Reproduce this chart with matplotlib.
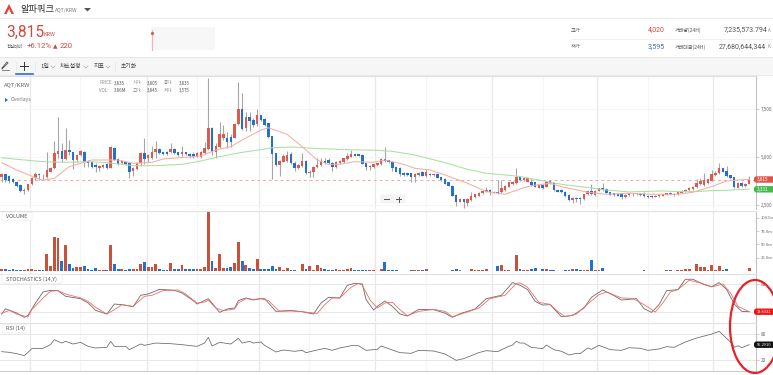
import matplotlib
matplotlib.use("Agg")
import matplotlib.pyplot as plt
from matplotlib.patches import Ellipse, Rectangle, FancyBboxPatch, Polygon

plt.rcParams['font.family'] = ['Noto Sans CJK KR', 'DejaVu Sans']

W, H = 773, 375

opens = [3980,4100,4010,3860,3720,3550,3240,3270,3580,3890,
4120,4080,3980,4240,4410,5170,5310,4900,5350,5240,
4840,5100,5280,4790,4720,4580,4450,4480,4620,4450,
5480,4880,4670,4760,4670,4270,4380,4670,5210,4930,
4970,5260,5420,5240,5260,5240,5400,5240,5140,5240,
5160,5170,5050,5020,5210,5420,6520,5240,5540,5970,
6000,6060,6000,6710,7490,6490,7060,6920,6700,7180,
6950,6750,6070,5190,4580,4760,4790,5140,4690,4450,
4550,4790,4150,4200,4460,4570,4790,4840,4690,4480,
4670,4720,4900,5020,5140,5140,5100,4670,4460,4500,
4580,4620,4900,4830,4760,4480,4450,4190,4190,4150,
3980,4070,4240,4000,4140,4070,4120,3940,3860,3690,
3510,3030,2680,2800,2600,2770,2910,2990,3110,3200,
3290,3200,3200,3170,3290,3460,3580,3650,3980,3790,
3720,3690,3690,3410,3550,3460,3750,3630,3300,3290,
3200,3030,2750,2890,2890,2800,3060,3220,3030,3250,
3370,3340,3170,3110,3100,3060,2940,3030,3060,3110,
3100,3100,2990,2980,2940,2960,2990,3040,3110,3100,
3060,3150,3220,3290,3320,3430,3580,3550,3630,3770,
4070,4170,4410,4270,4050,3940,3410,3670,3490,3600]

closes = [4100,3810,3750,3690,3510,3240,3300,3580,3930,4120,
4070,4050,4330,4450,5190,5310,4900,5350,5240,4840,
5090,5310,4760,4710,4500,4460,4550,4580,4410,5500,
4860,4650,4790,4650,4240,4410,4710,5210,4900,5100,
5260,5430,5210,5140,5170,5420,5210,5100,5240,5140,
5070,5020,5190,5280,5480,6520,5280,5590,6180,6180,
5760,5800,6710,7490,6450,7080,6870,6660,7180,6920,
6660,6060,5170,4580,4790,5050,5100,4670,4450,4580,
4790,4150,4240,4500,4580,4790,4690,4670,4480,4760,
4790,4930,5050,5140,5070,5070,4650,4460,4550,4620,
4670,4900,4790,4720,4410,4240,4140,4070,4070,3960,
4140,4190,4030,4240,4070,4140,3930,3790,3620,3510,
2990,2650,2820,2680,2820,2990,3060,3150,3240,3290,
3170,3150,3130,3370,3510,3690,3720,3960,3810,3890,
3890,3550,3460,3550,3410,3720,3630,3270,3200,3170,
2990,2750,2890,2820,2820,3060,3250,3080,3250,3370,
3290,3150,3050,3030,2990,2910,3030,3110,3110,3060,
3030,2960,2910,2910,2990,3030,3060,3110,3060,3030,
3170,3240,3300,3410,3460,3630,3770,3820,3840,4100,
4170,4410,4240,4030,3890,3440,3670,3490,3600,3815]

highs = [4150,4130,4070,3890,3750,3580,3370,3620,3980,4200,
4150,4120,5240,4500,5830,7060,5710,6520,5880,5280,
5140,5350,5310,4840,4790,4670,4580,4620,4670,5570,
5520,4930,4840,4790,4720,4500,4760,5240,6000,5170,
5590,5830,5480,5280,5290,5710,5450,5280,5590,5280,
5190,5240,5240,5310,5800,9120,6560,5710,6800,6660,
6310,6180,6780,8880,8340,7350,7320,7010,7490,7210,
7010,6780,6110,5220,4840,5140,5310,5240,4790,4620,
5190,4830,4310,4550,4930,4930,4930,4930,4720,4790,
4830,4970,5190,5360,5170,5170,5140,4710,4580,4650,
4710,4930,5540,4860,4790,4520,4480,4220,4220,4190,
4170,4220,4270,4360,4170,4170,4150,3980,3890,3720,
3550,3060,2860,2840,2860,3170,3100,3180,3270,3460,
3320,3240,3790,3790,3550,3720,3750,4410,4010,3930,
3930,3890,3720,3580,3580,3750,3790,3670,3340,3320,
3240,3060,2920,2920,2920,3100,3290,3580,3290,3410,
3630,3370,3200,3150,3130,3100,3060,3150,3150,3150,
3130,3200,3030,3010,3030,3060,3100,3150,3200,3130,
3200,3270,3340,3440,3490,3860,3890,4150,3860,4330,
4290,4670,4450,4550,4080,3980,3700,3700,3630,4020]

lows = [3720,3690,3630,3630,3460,3200,3100,3240,3550,3810,
3810,3810,3890,4200,4380,4970,4720,4840,5100,4380,
4720,5050,4500,4500,4450,4220,4270,4410,4360,4410,
4830,4580,4620,4580,3930,4030,4330,4550,4620,4720,
4900,4930,5170,5100,5100,5190,5170,5050,5070,5090,
4930,4970,5020,4930,5170,5360,5100,4970,5480,5880,
5480,5540,5970,6660,6400,6350,6350,6570,6630,6870,
6610,6000,3840,4550,4000,4720,4750,4620,4270,4360,
4500,4120,3980,3980,4430,4530,4640,4620,4290,4450,
4620,4690,4860,4980,5030,5030,4620,4330,4330,4450,
4550,4580,4760,4690,4270,4200,4030,4030,4030,3690,
3720,4000,4000,3960,4030,4030,3890,3750,3580,3480,
2960,2440,2650,2370,2470,2730,2870,2960,3080,3170,
3030,3110,3100,3110,3250,3430,3550,3620,3770,3750,
3690,3490,3430,3370,3340,3430,3600,3240,3170,3130,
2920,2720,2600,2680,2540,2770,3030,3050,2990,3220,
3250,3110,3010,2990,2960,2840,2890,2990,2990,3000,
2990,2920,2870,2870,2910,2930,2960,3010,3030,2990,
3030,3110,3180,3250,3290,3390,3550,3510,3600,3730,
4030,4140,4200,3960,3860,3410,3370,3460,3460,3595]

volumes = [2.8,3.5,1.6,3.5,0.6,0.6,0.6,4.1,4.1,2.2,
1.6,1.6,31.8,8.5,64,62,18,49.5,12.9,5.4,
7.2,7.2,8.5,3.5,1.6,4.7,0.6,1.6,1.6,48.2,
12.3,3.5,3.5,1.6,3.5,3.5,3.5,12.9,16.1,7.2,
7.9,12.9,2.8,1.6,1.6,15.4,2.8,2.8,10.4,2.8,
2.8,2.8,2.8,3.5,6.6,111,18.6,6,31.8,4.7,
5.4,7.2,15.4,54.5,18,11,4.7,3.5,22.4,
4.1,2.8,2.8,8.5,4.1,7.2,1.6,4.7,1.6,1.6,
0.5,12.9,3.5,9.1,1.6,10.4,5.4,2.8,1.0,1.0,
3.5,0.8,2,2.8,5.4,1.6,1.6,1.6,1.6,0.8,
0.8,0.5,2.8,16.1,1.6,1.6,1.6,0.5,0.5,0.5,
1.5,1.5,1.5,1.5,2.8,0.5,0.5,0.5,0.5,0.5,
0.5,1.6,2.8,1.6,0.5,0.5,3.5,1.6,1.2,1.2,
2.8,0.5,0.5,8.5,11.5,1.6,1.6,0.5,29.3,2.8,
1.6,1.6,3.5,4.7,0.5,2.8,2.8,1.6,1.6,0.5,
0.5,1.6,1.6,2.8,4.1,1.6,2.2,2.2,19.8,1.6,
1.6,6,0.5,0.5,0.5,0.5,0.5,0.5,0.5,0.5,
0.5,0.5,1.6,0.5,0.5,0.5,0.5,0.5,1.6,1.6,
0.5,1.6,1.6,2.8,3.5,0.5,12.3,7.9,7.9,1.6,
11,1.6,8.5,1.6,2.8,0.5,0.5,0.5,0.5,0.5,6]

ma_red_days = [0,4,9,11,14,18,24,31,35,40,43,53,57,61,64,69,71,76,80,84,87,90,94,99,102,107,110,114,118,124,129,134,138,141,146,149,156,161,167,173,180,184,189,193,199]
ma_red = [4706,4325,3927,3789,3893,4498,4844,4844,4671,4723,4896,5052,5363,5536,5882,6401,
6522,6176,5536,4844,4619,4619,4758,4723,4844,4619,4412,4325,4066,3633,3201,3062,3339,
3512,3633,3460,3166,3062,3114,3062,3062,3166,3460,3754,3841]

ma_green_days = [0,5,11,17,23,28,35,41,48,53,58,64,69,72,78,83,92,100,104,110,118,124,129,136,138,143,149,156,161,167,176,180,185,189,193,199]
ma_green = [4965,4862,4758,4723,4758,4706,4550,4550,4619,4792,5017,5242,5381,
5484,5519,5450,5381,5346,5294,5104,4706,4360,4152,4031,3979,
3806,3581,3408,3287,3184,3235,3201,3201,3253,3270,3331]

stoch_k_days = [0,1,4,6,7,9,11,13,15,17,21,23,25,28,30,32,35,37,39,42,46,48,51,52,55,56,58,60,62,63,65,67,69,
70,73,77,80,83,85,87,90,92,94,96,97,99,100,102,104,106,108,111,115,118,120,122,126,129,133,136,138,
140,142,144,146,149,152,155,157,160,163,165,169,171,173,175,177,180,182,184,187,189,191,193,195,197,199]
stoch_k = [14.9,26.6,17.1,7.6,12,39,63.2,66.8,66.1,53.7,48.5,39,22.9,14.9,36.8,35.4,31,55.9,58.8,69,66.8,61,44.2,36.8,48.5,39,18.5,25.9,28,44.2,50,45.6,48.5,
48.5,20.7,22.9,20,14.9,39,51.5,50,77.8,82.2,80.8,46.4,23.7,31.7,43.4,31.7,14.9,10.5,25.1,24.4,17,7.6,15.6,25.9,48.5,55.9,83.7,77.8,
68.3,42.7,34.6,35.4,9,11.9,28,51.5,67.6,55.1,45.6,48.5,26.6,18.5,35.4,66.1,68.3,91,91,79.3,74.9,83.7,68.3,36.8,20.7,20]

stoch_d_days = [0,2,4,7,8,11,13,15,17,21,23,25,28,31,32,35,38,40,43,47,49,52,54,55,57,59,62,63,65,67,69,
71,74,77,80,84,86,88,90,93,95,96,98,100,102,104,106,108,111,115,118,120,124,127,130,134,137,
138,140,143,146,148,150,153,156,159,161,165,168,171,174,176,178,180,183,186,189,192,194,196,199]
stoch_d = [16.3,22.9,14.9,8.3,24.4,50,64.7,66.1,58.8,50,42.7,29.5,14.9,29.5,35.4,31.7,53.7,55.9,66.1,67.6,58.8,39,41.2,44.9,28,22.2,25.9,39,48.5,47,48.5,
44.2,20.7,21.5,20,16.3,35.4,50,50,73.4,82.2,77.8,46.4,28,39,40.5,24.4,11.2,20.7,25.1,20.7,9,19.3,28,48.5,55.9,82.2,
83,73.4,40.5,36.1,20.7,9,14.9,36.8,57.3,63.2,50,49.3,35.4,19.3,39,63.2,68.3,88.8,83,74.2,80.8,61,31.7,19.83]

rsi_days = [0,2,4,6,7,8,11,13,14,16,17,19,21,23,25,28,29,30,33,34,37,38,41,45,48,52,54,55,56,58,61,63,64,66,67,69,
70,73,75,78,80,81,84,86,88,90,93,95,97,100,101,104,106,109,111,115,118,121,123,127,129,132,135,136,137,138,
139,141,144,145,147,149,151,153,154,156,157,159,162,165,167,170,172,175,177,179,182,185,189,191,194,195,196,197,199]
rsi = [39.5,38,35,30.5,38,46.3,47,55.3,66.5,59,62.8,56.8,60.5,51.5,47.8,49.3,62.8,51.5,51.5,44,56.8,53.8,59,57.5,55.3,51.5,59,71.8,52.3,60.5,56.8,69.5,59,62.8,59,61.3,
53.8,38.8,43.3,40.3,42.5,37.3,43.3,47,42.5,47.8,53,53,42.5,44.8,52.3,43.3,37.3,35.8,42.5,41,34.3,20,23.8,37.3,41.8,39.5,51.5,54.5,62.8,59,
59,49.3,46.3,54.5,44,40.3,32,35.8,35,47.8,44.8,53.8,44,42.5,48.5,47,42.5,45.5,50.8,49.3,61.3,70.3,79.3,85.3,61.3,49.3,53,48.5,55.29]

major_days = [7.5, 38.7, 68.5, 99.4, 130.5, 158.5, 189.3]
minor_days = [20.8, 52, 81.8, 113, 144, 172]

RED = '#dc5a50'
VRED = '#c9503a'
BLUE = '#2470d2'
WICK = '#a6a6a6'
GRID = '#f5f5f5'
GRID2 = '#e8e8e8'

fig = plt.figure(figsize=(W / 100, H / 100), dpi=100, facecolor='white')

def txt(x, y, s, size, color='#444444', ha='left', va='center', **kw):
    return fig.text(x / W, 1 - y / H, s, fontsize=size, color=color, ha=ha, va=va, **kw)

def pane(y0, y1):
    ax = fig.add_axes([0, 1 - y1 / H, 756 / W, (y1 - y0) / H])
    ax.set_xlim(-0.45, 200.8)
    ax.set_xticks([])
    for s in ('left', 'top', 'bottom'):
        ax.spines[s].set_visible(False)
    ax.spines['right'].set_color('#c4c4c4')
    ax.spines['right'].set_linewidth(0.8)
    ax.yaxis.tick_right()
    ax.tick_params(axis='y', length=2, width=0.5, color='#bbbbbb', labelsize=3.3, labelcolor='#666666', pad=1.2)
    ax.patch.set_alpha(0)
    for d in major_days:
        ax.axvline(d, color=GRID2, lw=0.9, zorder=0)
    for d in minor_days:
        ax.axvline(d, color=GRID, lw=0.8, zorder=0)
    return ax

days = list(range(len(opens)))

# header and toolbar backgrounds
bg = fig.add_axes([0, 0, 1, 1], zorder=-1)
bg.set_xlim(0, W); bg.set_ylim(H, 0); bg.axis('off')
bg.add_patch(Rectangle((0, 57), W, 18, fc='#f6f6f6', ec='none'))
bg.plot([0, W], [17.5, 17.5], color='#ececec', lw=0.8)
bg.plot([0, W], [57, 57], color='#e6e6e6', lw=0.6)
bg.plot([0, W], [75, 75], color='#e6e6e6', lw=0.6)
bg.add_patch(Rectangle((151, 27), 64, 23, fc='#f7f7f8', ec='none'))
bg.plot([152, 152], [30, 50], color='#f3b5ac', lw=0.8)
bg.plot([152], [33], marker='o', ms=1.3, color=RED)
bg.add_patch(Polygon([(9, 4), (4, 14), (6.5, 14), (9, 9), (11.5, 14), (14, 14)], fc='#e8412e', ec='none'))
bg.add_patch(Polygon([(84, 8), (91, 8), (87.5, 11.5)], fc='#555555', ec='none'))
bg.plot([520 + 152 / 3, 773], [38.5, 38.5], color='#f0f0f0', lw=0.6)
bg.plot([2, 8, 7, 2], [69, 63, 62, 68], color='#555555', lw=0.6)
bg.plot([2, 9], [70, 70], color='#555555', lw=0.5)
bg.plot([24, 24], [62, 70], color='#333333', lw=0.7)
bg.plot([20, 28], [66, 66], color='#333333', lw=0.7)
bg.plot([16, 33], [74, 74], color='#2a6fd6', lw=1.2)
for xs in (15.5, 35, 115):
    bg.plot([xs, xs], [62, 71], color='#e5e5e5', lw=0.5)

txt(20, 9.5, '알파쿼크', 6.7, '#333333')
txt(55, 10.5, 'AQT/KRW', 3.6, '#777777')
txt(6.5, 32, '3,815', 11.2, '#d0493c', family='Roboto')
txt(44, 35, 'KRW', 4, '#d0493c')
txt(7, 46, '전일대비', 3.1, '#555555')
txt(27, 46.5, '+6.12%', 5.6, '#d0493c', family='Roboto')
txt(53, 46.5, '▲', 4.2, '#d0493c', family='DejaVu Sans')
txt(60, 46.5, '220', 5.6, '#d0493c', family='Roboto')
txt(40, 66, '1일', 4.3, '#444444')
txt(60, 66, '차트설정', 4.2, '#444444')
txt(94, 66, '지표', 4.3, '#444444')
txt(121, 66, '초기화', 4.2, '#444444')
for xc in (53, 86, 108):
    bg.plot([xc - 2, xc, xc + 2], [66, 68, 66], color='#999999', lw=0.4)
txt(571, 30, '고가', 3.8, '#555555')
txt(571, 47, '저가', 3.8, '#555555')
txt(665, 30, '4,020', 5, '#d0493c', ha='right', family='Roboto')
txt(665, 47, '3,595', 5, '#3b66c4', ha='right', family='Roboto')
txt(675, 30, '거래량(24H)', 3.6, '#555555')
txt(675, 47, '거래대금(24H)', 3.6, '#555555')
txt(767, 30, '7,235,573.794', 5, '#555555', ha='right', family='Roboto')
txt(768, 30, 'A', 3.2, '#888888')
txt(766, 47, '27,680,644,344', 5, '#555555', ha='right', family='Roboto')
txt(767, 47, 'K', 3.2, '#888888')

# price pane
ax = pane(75.5, 209)
ax.set_ylim(2296, 9238)
for v in (2500, 5000, 7500):
    ax.axhline(v, color=GRID, lw=0.7, zorder=0)
ax.set_yticks([2500, 5000, 7500], ['2,500', '5,000', '7,500'])
ax.axhline(closes[-1], color='#f4a9a0', lw=0.7, ls=(0, (3, 3)), zorder=1)
up = [c >= o for o, c in zip(opens, closes)]
ax.vlines(days, lows, highs, color=WICK, lw=0.8, zorder=2)
ax.bar(days, [abs(c - o) for o, c in zip(opens, closes)], bottom=[min(o, c) for o, c in zip(opens, closes)],
       width=0.66, color=[RED if u else BLUE for u in up], zorder=3)
ax.plot(ma_green_days, ma_green, color='#a8e0a3', lw=0.75, zorder=4)
ax.plot(ma_red_days, ma_red, color='#f4aea5', lw=0.75, zorder=4)

# volume pane
axv = pane(210.7, 273.7)
axv.set_ylim(-5.5, 113.6)
axv.bar(days, volumes, width=0.75, color=[VRED if u else BLUE for u in up], zorder=3)
axv.set_yticks([25, 50, 75, 100], ['25.0m', '50.0m', '75.0m', '100.0m'])
axv.tick_params(axis='y', labelsize=3.0)

# stochastics pane
axs = pane(273.7, 322.3)
axs.set_ylim(-3.2, 103.2)
for v in (20, 80):
    axs.axhline(v, color='#e8e8e8', lw=0.7, zorder=0)
axs.set_yticks([80], ['80'])
axs.plot(stoch_k_days, stoch_k, color='#6a6a6a', lw=0.6, zorder=3)
axs.plot(stoch_d_days, stoch_d, color='#f46a6a', lw=0.6, zorder=4)

# RSI pane
axr = pane(323, 371.3)
axr.set_ylim(-4.8, 104.2)
for v in (20, 80):
    axr.axhline(v, color='#e8e8e8', lw=0.7, zorder=0)
axr.set_yticks([20, 80], ['20', '80'])
axr.plot(rsi_days, rsi, color='#666666', lw=0.55, zorder=3)
axr.spines['bottom'].set_visible(True)
axr.spines['bottom'].set_color('#cccccc')
axr.spines['bottom'].set_linewidth(0.8)

# pane separators
fg = fig.add_axes([0, 0, 1, 1], zorder=10)
fg.set_xlim(0, W); fg.set_ylim(H, 0); fg.axis('off'); fg.patch.set_alpha(0)
for y in (76, 210.5, 273.5, 322.7):
    fg.plot([0, 756], [y, y], color='#e0e0e0', lw=0.8)

def tag(x0, x1, y, s, fc, size=3.4, tc='white'):
    fg.add_patch(FancyBboxPatch((x0, y - 3.2), x1 - x0, 6.4, boxstyle='round,pad=0,rounding_size=2.5', fc=fc, ec='none', zorder=6))
    fg.text(x0 + 2.5, y, s, fontsize=size, color=tc, va='center', ha='left', zorder=7)

tag(754, 775, 179.5, '3,815', '#dc5247')
tag(754, 775, 189.3, '3,331', '#45b84a')
tag(754, 775, 311.7, '19.8332', '#f01414', size=2.9)
tag(754, 775, 344.7, '55.2910', '#111111', size=2.9)

for (x0, x1, y, s) in [(2, 32, 216.5, 'VOLUME'), (2, 62, 279, 'STOCHASTICS (14,Y)'), (2, 26, 328.5, 'RSI (14)')]:
    fg.add_patch(FancyBboxPatch((x0, y - 4.3), x1 - x0, 8.6, boxstyle='round,pad=0,rounding_size=1', fc='white', ec='#ececec', lw=0.5, zorder=6))
    fg.text(x0 + 4.5, y, s, fontsize=3.9, color='#555555', va='center', zorder=7)

fg.text(4, 85, 'AQT/KRW', fontsize=4.2, color='#666666', va='center')
fg.add_patch(Polygon([(5, 98), (5, 102), (8, 100)], fc='#2468cc', ec='none'))
fg.text(11, 100, 'Overlays', fontsize=3.7, color='#777777', va='center')
for (x, y, s, c) in [(99, 83, 'PRICE:', '#888888'), (114, 83, '3,835', '#555555'), (133, 83, '시가:', '#888888'), (147, 83, '3,805', '#555555'),
                     (164, 83, '종가:', '#888888'), (179, 83, '3,835', '#555555'),
                     (99, 90.5, 'VOL:', '#888888'), (114, 90.5, '3.86M', '#555555'), (133, 90.5, '고가:', '#888888'), (147, 90.5, '3,845', '#555555'),
                     (164, 90.5, '저가:', '#888888'), (179, 90.5, '3,575', '#555555')]:
    fg.text(x, y, s, fontsize=3.2, color=c, va='center')

fg.add_patch(FancyBboxPatch((381, 195), 24, 8, boxstyle='round,pad=0,rounding_size=1', fc='#f4f4f4', ec='#eeeeee', lw=0.4))
fg.plot([384, 389], [199, 199], color='#555555', lw=0.7)
fg.plot([396, 401], [199, 199], color='#555555', lw=0.7)
fg.plot([398.5, 398.5], [196.5, 201.5], color='#555555', lw=0.7)

fg.add_patch(Ellipse((755, 326.5), 50, 93, fc='none', ec='#e8202a', lw=1.6, zorder=8))

fig.savefig('out.png', dpi=100)
